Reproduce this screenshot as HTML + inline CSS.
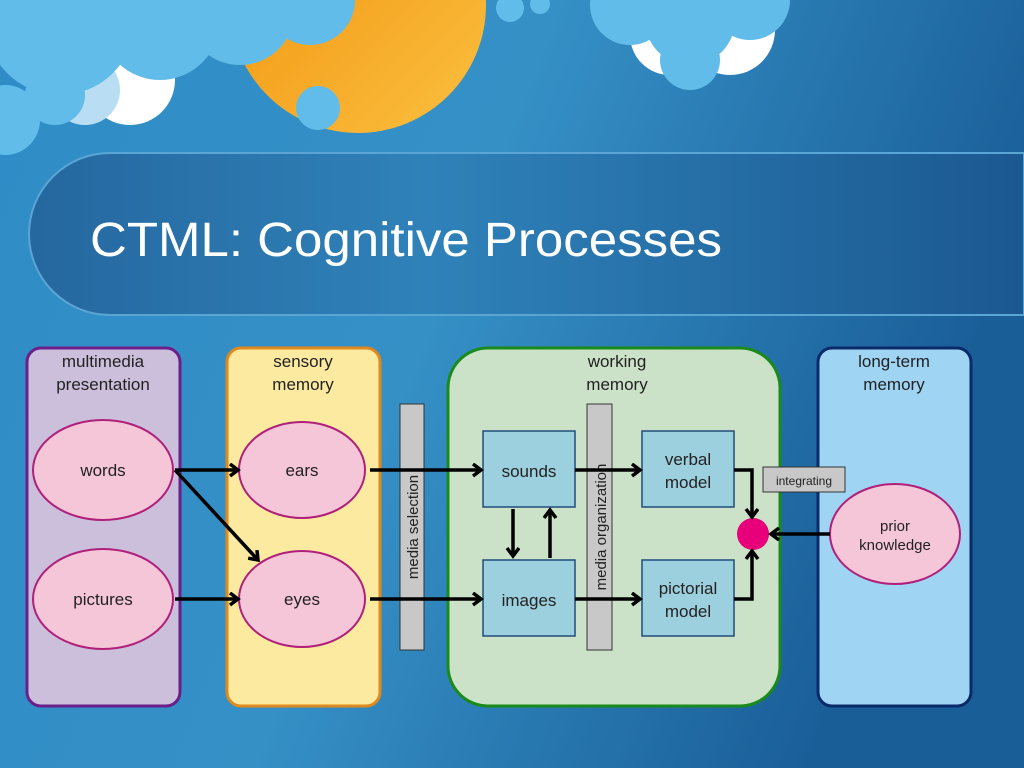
<!DOCTYPE html>
<html><head><meta charset="utf-8"><style>
html,body{margin:0;padding:0;width:1024px;height:768px;overflow:hidden;background:#2a7fba}
svg{display:block}
text{font-family:"Liberation Sans",sans-serif}
</style></head><body>
<svg width="1024" height="768" viewBox="0 0 1024 768">
<defs>
<linearGradient id="bg" x1="0" y1="0" x2="1" y2="0.3">
<stop offset="0" stop-color="#2f8cc6"/><stop offset="0.5" stop-color="#3590c6"/><stop offset="1" stop-color="#1a5e98"/></linearGradient>
<linearGradient id="band" x1="0" y1="0" x2="1" y2="0">
<stop offset="0" stop-color="#25679f"/><stop offset="0.4" stop-color="#2f82b9"/><stop offset="1" stop-color="#1b5891"/></linearGradient>
<linearGradient id="sun" x1="0" y1="0" x2="1" y2="1">
<stop offset="0" stop-color="#f0900a"/><stop offset="1" stop-color="#fbc040"/></linearGradient>
<marker id="ah" markerWidth="14" markerHeight="16" refX="10" refY="7" orient="auto" markerUnits="userSpaceOnUse">
<path d="M2,1 L10,7 L2,13" fill="none" stroke="#000" stroke-width="3.5"/></marker>
</defs>
<rect width="1024" height="768" fill="url(#bg)"/>
<!-- sun -->
<circle cx="358" cy="5" r="128" fill="url(#sun)"/>
<!-- white clouds behind -->
<g fill="#ffffff">
<circle cx="130" cy="80" r="45"/>
<circle cx="670" cy="35" r="40"/><circle cx="730" cy="30" r="45"/>
</g>
<circle cx="85" cy="90" r="35" fill="#b9def3"/>
<!-- clouds -->
<g fill="#62bce9">
<circle cx="60" cy="20" r="75"/><circle cx="160" cy="20" r="60"/><circle cx="240" cy="10" r="55"/><circle cx="310" cy="0" r="45"/><circle cx="5" cy="120" r="35"/>
<circle cx="55" cy="95" r="30"/>
<circle cx="318" cy="108" r="22"/>
<circle cx="510" cy="8" r="14"/><circle cx="540" cy="4" r="10"/>
<circle cx="690" cy="20" r="45"/><circle cx="630" cy="5" r="40"/><circle cx="750" cy="0" r="40"/><circle cx="690" cy="60" r="30"/>
</g>
<!-- band -->
<path d="M110,153 L1024,153 L1024,315 L110,315 A81,81 0 0 1 110,153 Z" fill="url(#band)" stroke="#5aa5d6" stroke-width="2"/>
<text x="90" y="256" font-size="48" fill="#fff" textLength="632" lengthAdjust="spacingAndGlyphs">CTML: Cognitive Processes</text>
<!-- columns -->
<rect x="27" y="348" width="153" height="358" rx="14" fill="#cbbfdc" stroke="#6a1f8a" stroke-width="3"/>
<rect x="227" y="348" width="153" height="358" rx="14" fill="#fbeaa0" stroke="#e08a1e" stroke-width="3"/>
<rect x="448" y="348" width="332" height="358" rx="40" fill="#cce2c8" stroke="#1a8a1a" stroke-width="3"/>
<rect x="818" y="348" width="153" height="358" rx="14" fill="#9fd4f2" stroke="#0a2a6a" stroke-width="3"/>
<g font-size="17" fill="#222" text-anchor="middle">
<text x="103" y="367">multimedia</text><text x="103" y="390">presentation</text>
<text x="303" y="367">sensory</text><text x="303" y="390">memory</text>
<text x="617" y="367">working</text><text x="617" y="390">memory</text>
<text x="894" y="367">long-term</text><text x="894" y="390">memory</text>
</g>
<!-- ellipses -->
<g fill="#f4c6d8" stroke="#b0207a" stroke-width="2">
<ellipse cx="103" cy="470" rx="70" ry="50"/><ellipse cx="103" cy="599" rx="70" ry="50"/>
<ellipse cx="302" cy="470" rx="63" ry="48"/><ellipse cx="302" cy="599" rx="63" ry="48"/>
<ellipse cx="895" cy="534" rx="65" ry="50"/>
</g>
<g font-size="17" fill="#222" text-anchor="middle">
<text x="103" y="476">words</text><text x="103" y="605">pictures</text>
<text x="302" y="476">ears</text><text x="302" y="605">eyes</text>
<text x="895" y="531" font-size="15">prior</text><text x="895" y="550" font-size="15">knowledge</text>
</g>
<!-- bars -->
<rect x="400" y="404" width="24" height="246" fill="#c8c8c8" stroke="#333" stroke-width="1"/>
<rect x="587" y="404" width="25" height="246" fill="#c8c8c8" stroke="#333" stroke-width="1"/>
<text transform="translate(418,527) rotate(-90)" font-size="15" fill="#222" text-anchor="middle">media selection</text>
<text transform="translate(606,527) rotate(-90)" font-size="15" fill="#222" text-anchor="middle">media organization</text>
<!-- boxes -->
<g fill="#9dd0de" stroke="#1e4d7a" stroke-width="1.5">
<rect x="483" y="431" width="92" height="76"/><rect x="483" y="560" width="92" height="76"/>
<rect x="642" y="431" width="92" height="76"/><rect x="642" y="560" width="92" height="76"/>
</g>
<g font-size="17" fill="#222" text-anchor="middle">
<text x="529" y="477">sounds</text><text x="529" y="606">images</text>
<text x="688" y="465">verbal</text><text x="688" y="488">model</text>
<text x="688" y="594">pictorial</text><text x="688" y="617">model</text>
</g>
<rect x="763" y="467" width="82" height="25" fill="#c8c8c8" stroke="#333" stroke-width="1"/>
<text x="804" y="485" font-size="12" fill="#222" text-anchor="middle">integrating</text>
<circle cx="753" cy="534" r="16" fill="#e8007a"/>
<!-- arrows -->
<g stroke="#000" stroke-width="3.5" fill="none" marker-end="url(#ah)">
<line x1="175" y1="470" x2="238" y2="470"/>
<line x1="175" y1="470" x2="258" y2="560"/>
<line x1="175" y1="599" x2="238" y2="599"/>
<line x1="370" y1="470" x2="481" y2="470"/>
<line x1="370" y1="599" x2="481" y2="599"/>
<line x1="513" y1="509" x2="513" y2="556"/>
<line x1="550" y1="558" x2="550" y2="510"/>
<line x1="575" y1="470" x2="640" y2="470"/>
<line x1="575" y1="599" x2="640" y2="599"/>
<polyline points="734,470 752,470 752,517"/>
<polyline points="734,599 752,599 752,551"/>
<line x1="830" y1="534" x2="771" y2="534"/>
</g>
</svg>
</body></html>
